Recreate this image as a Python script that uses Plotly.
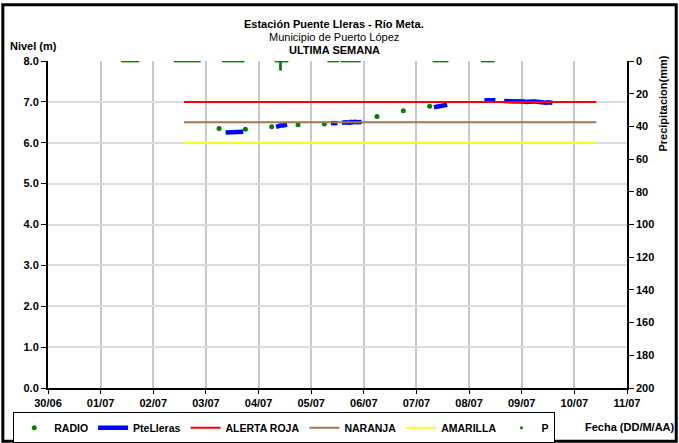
"""Nivel y precipitación - Estación Puente Lleras, última semana."""

import plotly.graph_objects as go

# ─── Datos ───────────────────────────────────────────────────────────────────

RADIO_TIMES = [
    "2014-07-03 06:00", "2014-07-03 18:00", "2014-07-04 06:00",
    "2014-07-04 18:00", "2014-07-05 06:00", "2014-07-05 18:00",
    "2014-07-06 06:00", "2014-07-06 18:00", "2014-07-07 06:00",
]
RADIO_LEVELS = [6.35, 6.33, 6.39, 6.44, 6.46, 6.51, 6.64, 6.78, 6.89]

# None marca los huecos entre tramos de registro
PTE_TIMES = [
    "2014-07-03 09:00", "2014-07-03 10:00", "2014-07-03 11:00", "2014-07-03 12:00",
    "2014-07-03 13:00", "2014-07-03 14:00", "2014-07-03 15:00", "2014-07-03 16:00",
    "2014-07-03 17:00", None,
    "2014-07-04 08:00", "2014-07-04 09:00", "2014-07-04 10:00", "2014-07-04 11:00",
    "2014-07-04 12:00", "2014-07-04 13:00", None,
    "2014-07-05 09:00", "2014-07-05 10:00", "2014-07-05 11:00", "2014-07-05 12:00", None,
    "2014-07-05 14:00", "2014-07-05 15:00", "2014-07-05 16:00", "2014-07-05 17:00",
    "2014-07-05 18:00", "2014-07-05 19:00", "2014-07-05 20:00", "2014-07-05 21:00",
    "2014-07-05 22:00", "2014-07-05 23:00", None,
    "2014-07-07 08:00", "2014-07-07 09:00", "2014-07-07 10:00", "2014-07-07 11:00",
    "2014-07-07 12:00", "2014-07-07 13:00", "2014-07-07 14:00", None,
    "2014-07-08 07:00", "2014-07-08 08:00", "2014-07-08 09:00", "2014-07-08 10:00",
    "2014-07-08 11:00", "2014-07-08 12:00", None,
    "2014-07-08 16:00", "2014-07-08 17:00", "2014-07-08 18:00", "2014-07-08 19:00",
    "2014-07-08 20:00", "2014-07-08 21:00", "2014-07-08 22:00", "2014-07-08 23:00",
    "2014-07-09 00:00", "2014-07-09 01:00", "2014-07-09 02:00", "2014-07-09 03:00",
    "2014-07-09 04:00", "2014-07-09 05:00", "2014-07-09 06:00", "2014-07-09 07:00",
    "2014-07-09 08:00", "2014-07-09 09:00", "2014-07-09 10:00", "2014-07-09 11:00",
    "2014-07-09 12:00", "2014-07-09 13:00", "2014-07-09 14:00",
]
PTE_LEVELS = [
    6.25, 6.25, 6.25, 6.25, 6.25, 6.25, 6.25, 6.26, 6.27, None,
    6.39, 6.41, 6.42, 6.42, 6.43, 6.44, None,
    6.48, 6.48, 6.49, 6.48, None,
    6.49, 6.50, 6.50, 6.49, 6.50, 6.51, 6.51, 6.50, 6.51, 6.51, None,
    6.87, 6.88, 6.89, 6.90, 6.91, 6.92, 6.93, None,
    7.04, 7.04, 7.04, 7.04, 7.04, 7.04, None,
    7.02, 7.02, 7.01, 7.02, 7.02, 7.03, 7.02, 7.01,
    7.01, 7.01, 7.00, 7.01, 7.00, 7.01, 7.01, 7.00,
    7.00, 6.99, 6.99, 6.98, 6.99, 6.98, 6.98,
]

# Umbrales de alerta
ALERT_TIMES = ["2014-07-02 14:00", "2014-07-10 10:00"]
ALERTA_ROJA = [7.0, 7.0]
NARANJA = [6.5, 6.5]
AMARILLA = [6.0, 6.0]

# Precipitación (mm), eje derecho invertido
P_TIMES = [
    "2014-07-01 10:00", "2014-07-01 11:00", "2014-07-01 12:00", "2014-07-01 13:00",
    "2014-07-01 14:00", "2014-07-01 15:00", "2014-07-01 16:00", "2014-07-01 17:00",
    "2014-07-02 10:00", "2014-07-02 11:00", "2014-07-02 12:00", "2014-07-02 13:00",
    "2014-07-02 14:00", "2014-07-02 15:00", "2014-07-02 16:00", "2014-07-02 17:00",
    "2014-07-02 18:00", "2014-07-02 19:00", "2014-07-02 20:00", "2014-07-02 21:00",
    "2014-07-03 08:00", "2014-07-03 09:00", "2014-07-03 10:00", "2014-07-03 11:00",
    "2014-07-03 12:00", "2014-07-03 13:00", "2014-07-03 14:00", "2014-07-03 15:00",
    "2014-07-03 16:00", "2014-07-03 17:00",
    "2014-07-04 08:00", "2014-07-04 09:00", "2014-07-04 10:00", "2014-07-04 10:00",
    "2014-07-04 10:00", "2014-07-04 10:00", "2014-07-04 10:00", "2014-07-04 11:00",
    "2014-07-04 12:00", "2014-07-04 13:00",
    "2014-07-05 08:00", "2014-07-05 09:00", "2014-07-05 10:00", "2014-07-05 11:00",
    "2014-07-05 12:00", "2014-07-05 14:00", "2014-07-05 15:00", "2014-07-05 16:00",
    "2014-07-05 17:00", "2014-07-05 18:00", "2014-07-05 19:00", "2014-07-05 20:00",
    "2014-07-05 21:00", "2014-07-05 22:00",
    "2014-07-07 08:00", "2014-07-07 09:00", "2014-07-07 10:00", "2014-07-07 11:00",
    "2014-07-07 12:00", "2014-07-07 13:00", "2014-07-07 14:00",
    "2014-07-08 06:00", "2014-07-08 07:00", "2014-07-08 08:00", "2014-07-08 09:00",
    "2014-07-08 10:00", "2014-07-08 11:00",
]
P_VALUES = [
    0, 0, 0, 0, 0, 0, 0, 0,
    0, 0, 0, 0, 0, 0, 0, 0, 0, 0, 0, 0,
    0, 0, 0, 0, 0, 0, 0, 0, 0, 0,
    0, 0, 0, 1.2, 2.5, 3.7, 5, 0, 0, 0,
    0, 0, 0, 0, 0, 0, 0, 0, 0, 0, 0, 0, 0, 0,
    0, 0, 0, 0, 0, 0, 0,
    0, 0, 0, 0, 0, 0,
]

_FONT = "Arial, Liberation Sans, sans-serif"
_BOLD = {"family": _FONT, "size": 11, "color": "black", "weight": "bold"}

# ─── Figura ──────────────────────────────────────────────────────────────────

fig = go.Figure()
fig.add_trace(go.Scatter(
    x=RADIO_TIMES, y=RADIO_LEVELS, name="RADIO", mode="markers",
    marker={"color": "#008000", "size": 5},
))
fig.add_trace(go.Scatter(
    x=PTE_TIMES, y=PTE_LEVELS, name="PteLleras", mode="lines",
    line={"color": "#0000ff", "width": 4.5}, connectgaps=False,
))
fig.add_trace(go.Scatter(
    x=ALERT_TIMES, y=ALERTA_ROJA, name="ALERTA ROJA", mode="lines",
    line={"color": "#ff0000", "width": 2},
))
fig.add_trace(go.Scatter(
    x=ALERT_TIMES, y=NARANJA, name="NARANJA", mode="lines",
    line={"color": "#a07850", "width": 2},
))
fig.add_trace(go.Scatter(
    x=ALERT_TIMES, y=AMARILLA, name="AMARILLA", mode="lines",
    line={"color": "#f8f82c", "width": 2},
))
fig.add_trace(go.Scatter(
    x=P_TIMES, y=P_VALUES, name="P", mode="markers", yaxis="y2",
    marker={"color": "#008000", "size": 3},
))

fig.update_layout(
    width=679,
    height=443,
    paper_bgcolor="white",
    plot_bgcolor="white",
    margin={"l": 48, "r": 52, "t": 61, "b": 55, "autoexpand": False},
    font={"family": _FONT, "size": 11, "color": "black"},
    showlegend=True,
    legend={
        "orientation": "h",
        "x": -0.06, "xanchor": "left",
        "y": -0.074, "yanchor": "top",
        "bordercolor": "black", "borderwidth": 1,
        "font": {**_BOLD, "size": 10.5},
        "itemwidth": 30,
    },
    xaxis={
        "type": "date",
        "range": ["2014-06-30", "2014-07-11"],
        "dtick": 86400000,
        "tick0": "2014-06-30",
        "tickformat": "%d/%m",
        "tickfont": _BOLD,
        "showgrid": True, "gridcolor": "#c8c8c8", "gridwidth": 1.5,
        "showline": True, "linecolor": "black", "linewidth": 1.5,
        "ticks": "outside", "ticklen": 4, "tickcolor": "black",
        "zeroline": False, "automargin": False,
    },
    yaxis={
        "range": [0, 8],
        "dtick": 1,
        "tickformat": ".1f",
        "tickfont": _BOLD,
        "showgrid": True, "gridcolor": "#dcdcdc", "gridwidth": 1.5,
        "showline": True, "linecolor": "black", "linewidth": 2,
        "ticks": "outside", "ticklen": 5, "tickcolor": "black",
        "zeroline": False, "automargin": False,
    },
    yaxis2={
        "overlaying": "y",
        "side": "right",
        "range": [200, 0],
        "dtick": 20,
        "tickfont": _BOLD,
        "showgrid": False,
        "showline": True, "linecolor": "black", "linewidth": 1.5,
        "ticks": "outside", "ticklen": 5, "tickcolor": "black",
        "zeroline": False, "automargin": False,
    },
)

# Títulos y rótulos de ejes
_ann = [
    ("<b>Estación Puente Lleras - Río Meta.</b>", 0.494, 1.113, "center", 0),
    ("Municipio de Puerto López", 0.494, 1.073, "center", 0),
    ("<b>ULTIMA SEMANA</b>", 0.494, 1.034, "center", 0),
    ("<b>Nivel (m)</b>", -0.069, 1.046, "left", 0),
    ("<b>Fecha (DD/M/AA)</b>", 1.086, -0.119, "right", 0),
    ("<b>Precipitacion(mm)</b>", 1.0605, 0.87, "center", -90),
]
for text, x, y, anchor, angle in _ann:
    fig.add_annotation(
        text=text, xref="paper", yref="paper", x=x, y=y,
        xanchor=anchor, yanchor="middle", showarrow=False,
        textangle=angle, font={"family": _FONT, "size": 11, "color": "black"},
    )

# Marco exterior del gráfico
fig.add_shape(
    type="rect", xref="paper", yref="paper",
    x0=-0.078, x1=1.085, y0=-0.163, y1=1.172,
    line={"color": "black", "width": 3},
)

# sin margen del body para que el gráfico ocupe la ventana
fig.write_html(
    "out.html",
    config={"displayModeBar": False},
    post_script="document.body.style.margin='0';",
)
